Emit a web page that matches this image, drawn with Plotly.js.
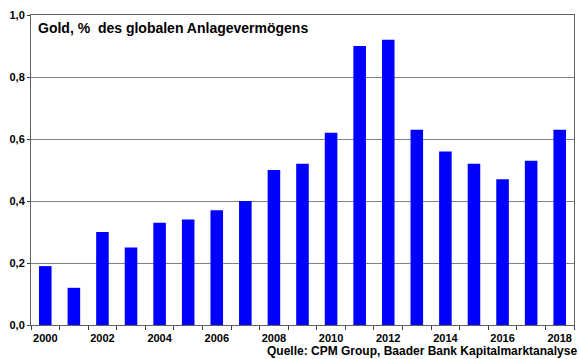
<!DOCTYPE html>
<html>
<head>
<meta charset="utf-8">
<script src="https://cdn.plot.ly/plotly-3.0.1.min.js"></script>
<style>html,body{margin:0;padding:0;background:#fff;}#chart{width:580px;height:359px;}</style>
</head>
<body>
<div id="chart"></div>
<script>
var years = [2000,2001,2002,2003,2004,2005,2006,2007,2008,2009,2010,2011,2012,2013,2014,2015,2016,2017,2018];
var goldShare = [0.19,0.12,0.30,0.25,0.33,0.34,0.37,0.40,0.50,0.52,0.62,0.90,0.92,0.63,0.56,0.52,0.47,0.53,0.63];
var xTickVals = [2000,2002,2004,2006,2008,2010,2012,2014,2016,2018];
var yTickVals = [0,0.2,0.4,0.6,0.8,1.0];
var titleText = 'Gold, %  des globalen Anlagevermögens';
var sourceText = 'Quelle: CPM Group, Baader Bank Kapitalmarktanalyse';

var boundaries = years.map(function(y){return y - 0.5;}).concat([years[years.length-1] + 0.5]);
var fontFam = 'Arial, "Liberation Sans", sans-serif';
var trace = {
  type: 'bar', x: years, y: goldShare,
  marker: {color: '#0000ff', line: {width: 0}},
  width: 0.44, hoverinfo: 'none'
};
var tickTrace = {
  type: 'scatter', x: [years[0]], y: [0], xaxis: 'x2', yaxis: 'y', mode: 'markers',
  marker: {opacity: 0}, hoverinfo: 'none'
};
var xr = [years[0] - 0.5, years[years.length-1] + 0.5];
var layout = {
  width: 580, height: 359,
  margin: {l: 31, r: 6, t: 15, b: 34},
  paper_bgcolor: '#fff', plot_bgcolor: '#fff',
  separators: ',.',
  showlegend: false,
  font: {family: fontFam, color: '#000'},
  xaxis: {
    range: xr, tickvals: xTickVals, ticktext: xTickVals.map(String),
    ticks: '', showgrid: false, zeroline: false, ticklabelstandoff: 3,
    showline: true, linecolor: '#606060', linewidth: 1, mirror: true,
    tickfont: {family: fontFam, size: 11, weight: 'bold', color: '#000'}
  },
  xaxis2: {
    overlaying: 'x', anchor: 'y', side: 'bottom', range: xr, tickvals: boundaries,
    showticklabels: false, ticks: 'outside', ticklen: 4, tickcolor: '#404040', tickwidth: 1,
    showgrid: false, zeroline: false, showline: false
  },
  yaxis: {
    range: [0, 1.0], tickvals: yTickVals, tickformat: '.1f',
    ticks: 'outside', ticklen: 3, tickcolor: '#404040',
    showgrid: true, gridcolor: '#808080', gridwidth: 1, zeroline: false,
    showline: true, linecolor: '#606060', linewidth: 1, mirror: true,
    tickfont: {family: fontFam, size: 11, weight: 'bold', color: '#000'}
  },
  annotations: [
    {xref: 'paper', yref: 'paper', x: 0.01, y: 0.99, xanchor: 'left', yanchor: 'top',
     text: titleText, showarrow: false,
     font: {family: fontFam, size: 14, weight: 'bold', color: '#000'}},
    {xref: 'paper', yref: 'paper', x: 1.008, y: -0.11, xanchor: 'right', yanchor: 'bottom',
     text: sourceText, showarrow: false, borderpad: 0,
     font: {family: fontFam, size: 12, weight: 'bold', color: '#000'}}
  ]
};
Plotly.newPlot('chart', [trace, tickTrace], layout, {staticPlot: true, displayModeBar: false});
</script>
</body>
</html>
